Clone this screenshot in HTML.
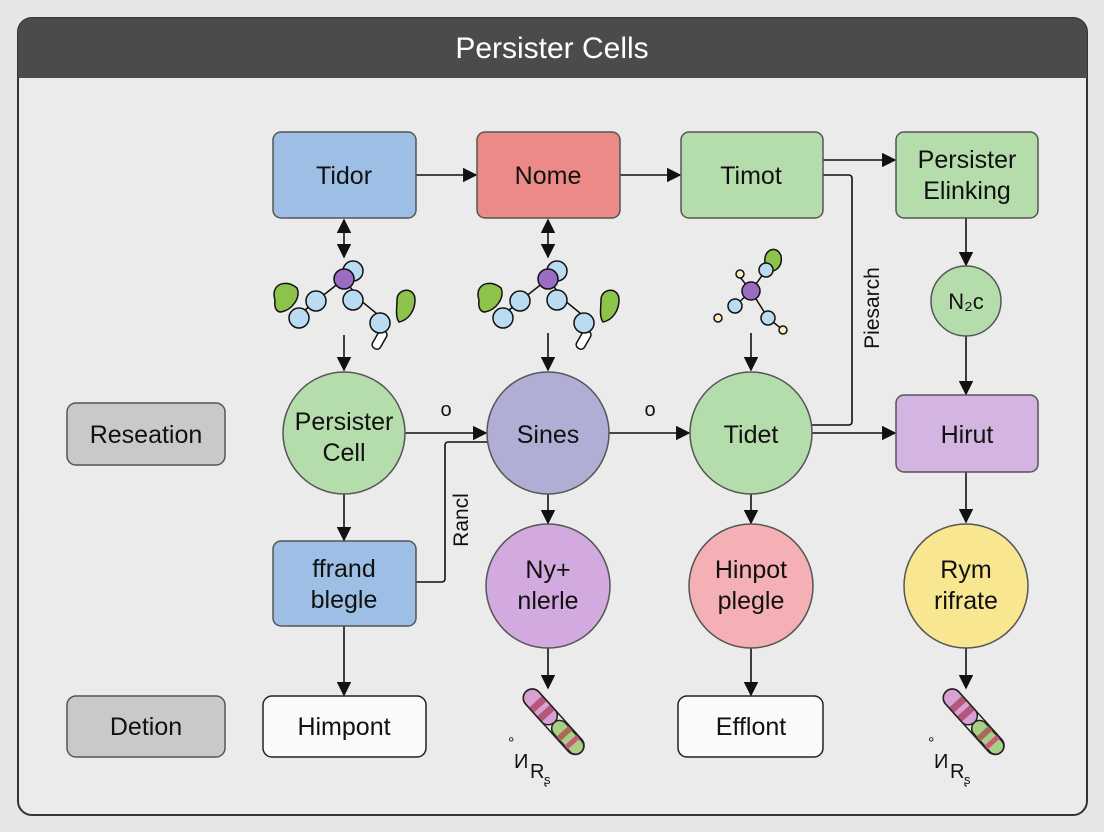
<!DOCTYPE html>
<html><head><meta charset="utf-8"><style>
html,body{margin:0;padding:0;background:#e6e6e6;}
svg{display:block;font-family:"Liberation Sans",sans-serif;}
</style></head><body>
<svg width="1104" height="832" viewBox="0 0 1104 832" xmlns="http://www.w3.org/2000/svg">
<defs>
<marker id="a" viewBox="0 0 10 10" refX="9" refY="5" markerWidth="9" markerHeight="9" orient="auto-start-reverse"><path d="M0,0L10,5L0,10z" fill="#111"/></marker>
</defs>
<rect x="0" y="0" width="1104" height="832" fill="#e6e6e6"/>
<rect x="18" y="18" width="1069" height="797" rx="14" fill="#ebebeb" stroke="#333" stroke-width="2"/>
<path d="M18,32 a14,14 0 0 1 14,-14 H1073 a14,14 0 0 1 14,14 V78 H18z" fill="#4b4b4b"/>
<text x="552" y="58" font-size="30" fill="#fff" text-anchor="middle">Persister Cells</text>

<g stroke="#111" stroke-width="1.6" fill="none">
<line x1="416" y1="175" x2="476" y2="175" marker-end="url(#a)"/>
<line x1="620" y1="175" x2="680" y2="175" marker-end="url(#a)"/>
<line x1="823" y1="160" x2="895" y2="160" marker-end="url(#a)"/>
<line x1="344" y1="220" x2="344" y2="257" marker-start="url(#a)" marker-end="url(#a)"/>
<line x1="548" y1="220" x2="548" y2="257" marker-start="url(#a)" marker-end="url(#a)"/>
<line x1="344" y1="335" x2="344" y2="370" marker-end="url(#a)"/>
<line x1="548" y1="333" x2="548" y2="370" marker-end="url(#a)"/>
<line x1="751" y1="333" x2="751" y2="370" marker-end="url(#a)"/>
<line x1="405" y1="433" x2="486" y2="433" marker-end="url(#a)"/>
<line x1="609" y1="433" x2="689" y2="433" marker-end="url(#a)"/>
<line x1="812" y1="433" x2="895" y2="433" marker-end="url(#a)"/>
<path d="M823,175 H849 a3,3 0 0 1 3,3 V422 a3,3 0 0 1 -3,3 H812"/>
<path d="M416,582 H442 a3,3 0 0 0 3,-3 V445 a3,3 0 0 1 3,-3 H487"/>
<line x1="966" y1="218" x2="966" y2="265" marker-end="url(#a)"/>
<line x1="966" y1="336" x2="966" y2="394" marker-end="url(#a)"/>
<line x1="966" y1="472" x2="966" y2="522" marker-end="url(#a)"/>
<line x1="344" y1="494" x2="344" y2="540" marker-end="url(#a)"/>
<line x1="548" y1="494" x2="548" y2="523" marker-end="url(#a)"/>
<line x1="751" y1="494" x2="751" y2="523" marker-end="url(#a)"/>
<line x1="344" y1="626" x2="344" y2="695" marker-end="url(#a)"/>
<line x1="548" y1="648" x2="548" y2="688" marker-end="url(#a)"/>
<line x1="751" y1="648" x2="751" y2="695" marker-end="url(#a)"/>
<line x1="966" y1="648" x2="966" y2="688" marker-end="url(#a)"/>
</g>

<g stroke="#555" stroke-width="1.5" font-size="25" text-anchor="middle">
<rect x="273" y="132" width="143" height="86" rx="8" fill="#9dbfe6"/>
<rect x="477" y="132" width="143" height="86" rx="8" fill="#ec8a87"/>
<rect x="681" y="132" width="142" height="86" rx="8" fill="#b5dcab"/>
<rect x="896" y="132" width="142" height="86" rx="8" fill="#b5dcab"/>
<circle cx="966" cy="301" r="35" fill="#b5dcab"/>
<rect x="67" y="403" width="158" height="62" rx="9" fill="#c9c9c9"/>
<circle cx="344" cy="433" r="61" fill="#b5dcab"/>
<circle cx="548" cy="433" r="61" fill="#b1aed6"/>
<circle cx="751" cy="433" r="61" fill="#b5dcab"/>
<rect x="896" y="395" width="142" height="77" rx="8" fill="#d4b4e0"/>
<rect x="273" y="541" width="143" height="85" rx="8" fill="#9dbfe6"/>
<circle cx="548" cy="586" r="62" fill="#d3aadf"/>
<circle cx="751" cy="586" r="62" fill="#f4b0b4"/>
<circle cx="966" cy="586" r="62" fill="#f8e690"/>
<rect x="67" y="696" width="158" height="61" rx="9" fill="#c9c9c9"/>
<rect x="263" y="696" width="163" height="61" rx="9" fill="#fafafa" stroke="#222"/>
<rect x="678" y="696" width="145" height="61" rx="9" fill="#fafafa" stroke="#222"/>
</g>
<g font-size="25" fill="#111" text-anchor="middle">
<text x="344" y="184">Tidor</text>
<text x="548" y="184">Nome</text>
<text x="751" y="184">Timot</text>
<text x="967" y="168">Persister</text>
<text x="967" y="199">Elinking</text>
<text x="966" y="309" font-size="22">N₂c</text>
<text x="146" y="443">Reseation</text>
<text x="344" y="430">Persister</text>
<text x="344" y="461">Cell</text>
<text x="548" y="443">Sines</text>
<text x="751" y="443">Tidet</text>
<text x="967" y="443">Hirut</text>
<text x="344" y="577">ffrand</text>
<text x="344" y="608">blegle</text>
<text x="548" y="578">Ny+</text>
<text x="548" y="609">nlerle</text>
<text x="751" y="578">Hinpot</text>
<text x="751" y="609">plegle</text>
<text x="966" y="578">Rym</text>
<text x="966" y="609">rifrate</text>
<text x="146" y="735">Detion</text>
<text x="344" y="735">Himpont</text>
<text x="751" y="735">Efflont</text>
<text x="446" y="416" font-size="20">o</text>
<text x="650" y="416" font-size="20">o</text>
<text transform="translate(468,520) rotate(-90)" font-size="21">Rancl</text>
<text transform="translate(879,308) rotate(-90)" font-size="21">Piesarch</text>
</g>

<g stroke="#111" stroke-width="1.5">
<g id="m1">
<path d="M275,300 c-5,-15 10,-22 22,-12 c4,10 -5,22 -16,24 c-5,0 -7,-5 -6,-12z" fill="#8cc34a"/>
<path d="M397,300 c0,-12 18,-14 18,0 c0,10 -6,20 -16,22 c-4,-6 -2,-14 -2,-22z" fill="#8cc34a"/>
<line x1="299" y1="315" x2="316" y2="301"/><line x1="316" y1="301" x2="344" y2="279"/><line x1="344" y1="279" x2="360" y2="300"/><line x1="360" y1="300" x2="387" y2="322"/>
<rect x="375" y="330" width="9" height="20" rx="4" fill="#fff" transform="rotate(30 380 340)"/>
<circle cx="299" cy="318" r="10" fill="#b9dcf3"/>
<circle cx="316" cy="301" r="10" fill="#b9dcf3"/>
<circle cx="353" cy="271" r="10" fill="#b9dcf3"/>
<circle cx="344" cy="279" r="10" fill="#9b6cc4"/>
<circle cx="353" cy="300" r="10" fill="#b9dcf3"/>
<circle cx="380" cy="323" r="10" fill="#b9dcf3"/>
</g>
<use href="#m1" transform="translate(204,0)"/>
<path d="M765,262 c-2,-12 12,-18 16,-6 c2,10 -6,18 -14,14z" fill="#8cc34a"/>
<line x1="751" y1="291" x2="766" y2="270"/><line x1="751" y1="291" x2="735" y2="306"/><line x1="751" y1="291" x2="768" y2="318"/><line x1="751" y1="291" x2="740" y2="277"/><line x1="768" y1="318" x2="783" y2="330"/>
<circle cx="766" cy="270" r="7" fill="#b9dcf3"/>
<circle cx="735" cy="306" r="7" fill="#b9dcf3"/>
<circle cx="768" cy="318" r="7" fill="#b9dcf3"/>
<circle cx="740" cy="274" r="4" fill="#fbefb9"/>
<circle cx="718" cy="318" r="4" fill="#fbefb9"/>
<circle cx="783" cy="330" r="4" fill="#fbefb9"/>
<circle cx="751" cy="291" r="9" fill="#9b6cc4"/>
</g>

<g id="c1" stroke="#222" stroke-width="1.5">
<g transform="translate(553,721) rotate(48)">
<rect x="-40" y="-9" width="42" height="18" rx="9" fill="#d9a0d4"/>
<rect x="-26" y="-9" width="7" height="18" fill="#b5577a" stroke="none"/>
<rect x="-14" y="-9" width="7" height="18" fill="#b5577a" stroke="none"/>
<rect x="2" y="-8" width="40" height="16" rx="8" fill="#a9cf86"/>
<rect x="14" y="-8" width="6" height="16" fill="#a86a5a" stroke="none"/>
<rect x="26" y="-8" width="5" height="16" fill="#c95a7a" stroke="none"/>
<rect x="-40" y="-9" width="82" height="18" rx="9" fill="none"/>
</g>
</g>
<use href="#c1" transform="translate(420,0)"/>
<g font-size="20" fill="#111">
<text x="508" y="748" font-size="16">°</text><text x="514" y="768">И</text><text x="530" y="778">R</text><text x="544" y="784" font-size="13">ʂ</text>
<text x="928" y="748" font-size="16">°</text><text x="934" y="768">И</text><text x="950" y="778">R</text><text x="964" y="784" font-size="13">ʂ</text>
</g>
</svg>
</body></html>
